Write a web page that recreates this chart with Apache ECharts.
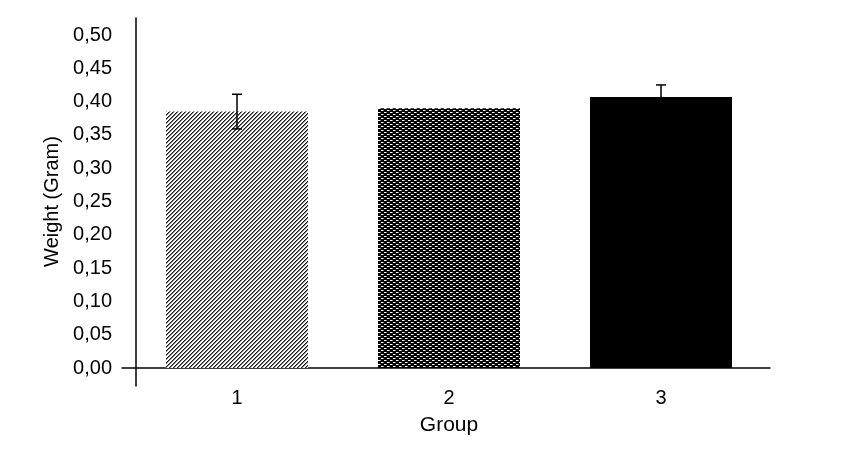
<!DOCTYPE html>
<html><head><meta charset="utf-8">
<script src="https://cdn.jsdelivr.net/npm/echarts@6/dist/echarts.min.js"></script>
<style>html,body{margin:0;padding:0;background:#fff}#c{width:847px;height:459px}</style>
</head><body><div id="c"></div>
<script>
const categories = ['1', '2', '3'];
const means = [0.385, 0.390, 0.407];
const errors = [0.026, 0, 0.018];
const yTicks = [0, 0.05, 0.10, 0.15, 0.20, 0.25, 0.30, 0.35, 0.40, 0.45, 0.50];

function makePattern(w, h, fn) {
  const cv = document.createElement('canvas');
  cv.width = w; cv.height = h;
  const ctx = cv.getContext('2d');
  const img = ctx.createImageData(w, h);
  for (let y = 0; y < h; y++) for (let x = 0; x < w; x++) {
    const v = fn(x, y);
    const i = (y * w + x) * 4;
    img.data[i] = v; img.data[i+1] = v; img.data[i+2] = v; img.data[i+3] = 255;
  }
  ctx.putImageData(img, 0, 0);
  return cv;
}
const hatch = makePattern(8, 8, (x, y) => {
  const k = (x + y) % 4;
  return k === 0 ? 30 : (k === 1 ? 120 : 255);
});
const dots = makePattern(6, 4, (x, y) => {
  if (y === 0 && (x === 0 || x === 1)) return 255;
  if (y === 0 && x === 2) return 140;
  if (y === 2 && (x === 3 || x === 4)) return 255;
  if (y === 2 && x === 5) return 140;
  return 0;
});
const fills = [
  { image: hatch, repeat: 'repeat' },
  { image: dots, repeat: 'repeat' },
  '#000'
];

const font = 'Liberation Sans, Arial, sans-serif';
const chart = echarts.init(document.getElementById('c'));
chart.setOption({
  animation: false,
  grid: [
    { left: 131, right: 80, top: 35, bottom: 91 },
    { left: 122, right: 77, top: 18, bottom: 73 }
  ],
  xAxis: [
    { type: 'category', gridIndex: 0, data: categories,
      axisLine: { show: false }, axisTick: { show: false },
      axisLabel: { color: '#000', fontSize: 20, fontFamily: font, margin: 20 },
      name: 'Group', nameLocation: 'middle', nameGap: 47,
      nameTextStyle: { color: '#000', fontSize: 21, fontFamily: font } },
    { type: 'category', gridIndex: 1, data: [''],
      axisLine: { show: true, onZero: true, lineStyle: { color: '#000', width: 1.5 } },
      axisTick: { show: false }, axisLabel: { show: false } }
  ],
  yAxis: [
    { type: 'value', gridIndex: 0, min: 0, max: 0.5, interval: 0.05,
      axisLine: { show: false }, axisTick: { show: false }, splitLine: { show: false },
      axisLabel: { color: '#000', fontSize: 20, fontFamily: font, margin: 19,
        formatter: v => yTicks.some(t => Math.abs(t - v) < 1e-9) ? v.toFixed(2).replace('.', ',') : '' },
      name: 'Weight (Gram)', nameLocation: 'middle', nameGap: 68, nameRotate: 90,
      nameTextStyle: { color: '#000', fontSize: 20, fontFamily: font } },
    { type: 'value', gridIndex: 1, min: -0.027, max: 0.5255, offset: -14,
      axisLine: { show: true, lineStyle: { color: '#000', width: 1.5 } },
      axisTick: { show: false }, axisLabel: { show: false }, splitLine: { show: false } }
  ],
  series: [
    { type: 'bar', xAxisIndex: 0, yAxisIndex: 0, barWidth: 142,
      data: means.map((v, i) => ({ value: v, itemStyle: { color: fills[i] } })) },
    { type: 'custom', xAxisIndex: 0, yAxisIndex: 0, z: 5,
      data: means.map((v, i) => [i, v, errors[i]]),
      renderItem: (params, api) => {
        const e = api.value(2);
        if (!e) return null;
        const x = api.value(0), m = api.value(1);
        const hi = api.coord([x, m + e]);
        const lo = api.coord([x, m - e]);
        const cw = 5;
        const st = { stroke: '#000', lineWidth: 1.5 };
        return { type: 'group', children: [
          { type: 'line', shape: { x1: hi[0], y1: hi[1], x2: lo[0], y2: lo[1] }, style: st },
          { type: 'line', shape: { x1: hi[0]-cw, y1: hi[1], x2: hi[0]+cw, y2: hi[1] }, style: st },
          { type: 'line', shape: { x1: lo[0]-cw, y1: lo[1], x2: lo[0]+cw, y2: lo[1] }, style: st }
        ]};
      } }
  ]
});
</script></body></html>
